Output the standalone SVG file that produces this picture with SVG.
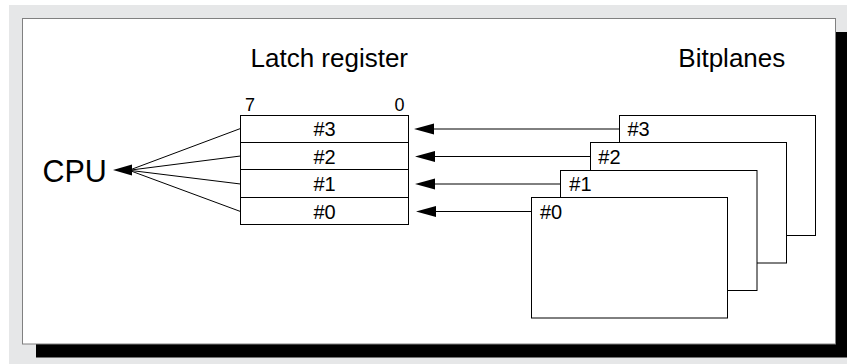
<svg xmlns="http://www.w3.org/2000/svg" width="847" height="364" viewBox="0 0 847 364">
  <defs>
    <style>
      .t { font-family: "Liberation Sans", Arial, Helvetica, sans-serif; fill: #000; }
      .box { fill: #fff; stroke: #000; stroke-width: 1; }
      .ln { stroke: #000; stroke-width: 1; fill: none; }
    </style>
    <marker id="ah" markerUnits="userSpaceOnUse" markerWidth="20" markerHeight="12" refX="0" refY="6" orient="auto-start-reverse" viewBox="0 0 20 12">
      <path d="M0,6 L20,0.5 L20,11.5 Z" fill="#000"/>
    </marker>
  </defs>

  <rect x="9" y="5" width="838" height="359" fill="#e6e7e8"/>
  <rect x="36" y="32" width="815" height="325.5" fill="#000"/>
  <rect x="22.5" y="18.5" width="813" height="325.5" fill="#fff" stroke="#808080" stroke-width="1"/>

  <g id="labels">
    <text class="t" x="250.5" y="66.7" font-size="26">Latch register</text>
    <text class="t" x="678.3" y="66.7" font-size="26">Bitplanes</text>
    <text class="t" x="245" y="111" font-size="18">7</text>
    <text class="t" x="404.5" y="111" font-size="18" text-anchor="end">0</text>
  </g>

  <g id="cpu">
    <text class="t" x="42.5" y="182" font-size="30.5">CPU</text>
  </g>

  <g id="latch-register">
    <rect class="box" x="240.5" y="115.5" width="168" height="109"/>
    <line class="ln" x1="240.5" y1="142.5" x2="408.5" y2="142.5"/>
    <line class="ln" x1="240.5" y1="169.5" x2="408.5" y2="169.5"/>
    <line class="ln" x1="240.5" y1="197.5" x2="408.5" y2="197.5"/>
    <g font-size="20" text-anchor="middle">
      <text class="t" x="324.5" y="136">#3</text>
      <text class="t" x="324.5" y="163.5">#2</text>
      <text class="t" x="324.5" y="191">#1</text>
      <text class="t" x="324.5" y="218.5">#0</text>
    </g>
  </g>

  <g id="bitplane-3">
    <rect class="box" x="619.5" y="115.5" width="196" height="120"/>
    <text class="t" x="627.5" y="136" font-size="20">#3</text>
  </g>
  <g id="bitplane-2">
    <rect class="box" x="590.5" y="142.5" width="196" height="120.5"/>
    <text class="t" x="598.3" y="163.5" font-size="20">#2</text>
  </g>
  <g id="bitplane-1">
    <rect class="box" x="560.5" y="170.5" width="196.5" height="120"/>
    <text class="t" x="569.3" y="191" font-size="20">#1</text>
  </g>
  <g id="bitplane-0">
    <rect class="box" x="531.5" y="197.5" width="196" height="120.5"/>
    <text class="t" x="540" y="218.5" font-size="20">#0</text>
  </g>

  <g id="connectors">
    <line class="ln" x1="619.5" y1="129" x2="434" y2="129"/>
    <line class="ln" x1="590.5" y1="156.5" x2="435" y2="156.5"/>
    <line class="ln" x1="560.5" y1="184" x2="435" y2="184"/>
    <line class="ln" x1="531.5" y1="211.5" x2="436" y2="211.5"/>
    <path d="M414,129 L434,123.5 L434,134.5 Z" fill="#000"/>
    <path d="M415,156.5 L435,151 L435,162 Z" fill="#000"/>
    <path d="M415,184 L435,178.5 L435,189.5 Z" fill="#000"/>
    <path d="M416,211.5 L436,206 L436,217 Z" fill="#000"/>

    <line class="ln" x1="131" y1="169.5" x2="240.5" y2="128.5"/>
    <line class="ln" x1="131" y1="170" x2="240.5" y2="156"/>
    <line class="ln" x1="131" y1="170.5" x2="240.5" y2="184"/>
    <line class="ln" x1="131" y1="171" x2="240.5" y2="211.5"/>
    <path d="M113,170 L132,164.5 L132,175.5 Z" fill="#000"/>
  </g>
</svg>
